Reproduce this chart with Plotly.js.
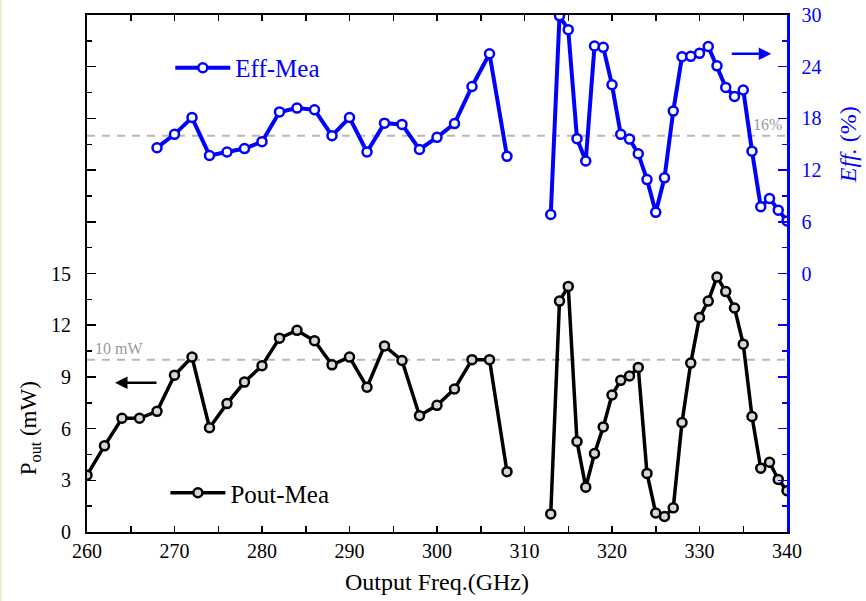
<!DOCTYPE html>
<html>
<head>
<meta charset="utf-8">
<script src="https://cdn.plot.ly/plotly-3.0.1.min.js"></script>
<style>html,body{margin:0;padding:0;background:#fff;}#chart{width:866px;height:601px;}</style>
</head>
<body>
<div id="chart"></div>
<script>
// Output frequency (GHz)
const freq = [260,262,264,266,268,270,272,274,276,278,280,282,284,286,288,290,292,294,296,298,300,302,304,306,308,
  310,
  313,314,315,316,317,318,319,320,321,322,323,324,325,326,327,328,329,330,331,332,333,334,335,336,337,338,339,340];
// Measured output power (mW)
const poutMea = [3.3,5.0,6.6,6.6,7.0,9.1,10.15,6.05,7.45,8.7,9.65,11.25,11.7,11.1,9.7,10.15,8.4,10.8,9.95,6.75,7.35,8.3,10.0,10.0,3.5,
  null,
  1.05,13.4,14.25,5.25,2.6,4.55,6.1,7.95,8.8,9.05,9.55,3.4,1.1,0.9,1.4,6.35,9.8,12.45,13.4,14.8,13.95,13.0,10.9,6.7,3.7,4.05,3.05,2.4];
// Measured efficiency (%), from 268 GHz
const freqEff = [268,270,272,274,276,278,280,282,284,286,288,290,292,294,296,298,300,302,304,306,308,
  310,
  313,314,315,316,317,318,319,320,321,322,323,324,325,326,327,328,329,330,331,332,333,334,335,336,337,338,339,340];
const effMea = [14.6,16.15,18.1,13.7,14.1,14.5,15.3,18.75,19.2,19.0,16.0,18.1,14.1,17.45,17.3,14.4,15.8,17.4,21.7,25.5,13.6,
  null,
  6.85,29.9,28.3,15.65,13.05,26.4,26.25,21.9,16.15,15.6,13.9,10.9,7.1,11.1,18.85,25.15,25.2,25.55,26.35,24.1,21.6,20.55,21.3,14.2,7.75,8.7,7.35,6.1];

const leftTicks = [0,3,6,9,12,15,18,21,24,27,30];
const leftTickText = ['0','3','6','9','12','15','','','','',''];
const rightTicks = [-30,-24,-18,-12,-6,0,6,12,18,24,30];
const rightTickText = ['','','','','','0','6','12','18','24','30'];

const serif = '"Liberation Serif", "Times New Roman", Times, serif';
const BLUE = '#0000ff';

const traces = [
  {
    x: freq, y: poutMea, name: 'Pout-Mea', type: 'scatter', mode: 'lines+markers',
    connectgaps: false, yaxis: 'y', legend: 'legend',
    line: {color: '#000', width: 3.5},
    marker: {symbol: 'circle', size: 9, color: '#d8d8d8', line: {color: '#000', width: 2.5}}
  },
  {
    x: freqEff, y: effMea, name: 'Eff-Mea', type: 'scatter', mode: 'lines+markers',
    connectgaps: false, yaxis: 'y2', legend: 'legend2',
    line: {color: BLUE, width: 4},
    marker: {symbol: 'circle', size: 9, color: '#fff', line: {color: BLUE, width: 2.5}}
  }
];

const layout = {
  width: 866, height: 601,
  margin: {l: 87, r: 79, t: 15, b: 69},
  paper_bgcolor: '#fff', plot_bgcolor: '#fff',
  font: {family: serif, size: 20, color: '#000'},
  showlegend: true,
  legend: {x: 0.112, y: 0.0754, xanchor: 'left', yanchor: 'middle', bgcolor: 'rgba(0,0,0,0)',
    font: {family: serif, size: 25, color: '#000'}, itemwidth: 55},
  legend2: {x: 0.119, y: 0.8975, xanchor: 'left', yanchor: 'middle', bgcolor: 'rgba(0,0,0,0)',
    font: {family: serif, size: 25, color: BLUE}, itemwidth: 55},
  xaxis: {
    range: [260, 340], tick0: 260, dtick: 10, ticks: 'inside', ticklen: 6, tickwidth: 1.5, tickcolor: '#000',
    minor: {dtick: 5, ticks: 'inside', ticklen: 6, tickwidth: 1.5, tickcolor: '#000'},
    showline: true, linecolor: '#000', linewidth: 2, mirror: 'ticks',
    showgrid: false, zeroline: false,
    tickfont: {family: serif, size: 20, color: '#000'},
    title: {text: 'Output Freq.(GHz)', font: {family: serif, size: 24, color: '#000'}, standoff: 12}
  },
  yaxis: {
    range: [0, 30], tickmode: 'array', tickvals: leftTicks, ticktext: leftTickText,
    ticks: 'inside', ticklen: 9, tickwidth: 1.5, tickcolor: '#000',
    minor: {tickmode: 'array', tickvals: [1.5,4.5,7.5,10.5,13.5,16.5,19.5,22.5,25.5,28.5], ticks: 'inside', ticklen: 5, tickwidth: 1.5, tickcolor: '#000'},
    showline: true, linecolor: '#000', linewidth: 2, showgrid: false, zeroline: false,
    tickfont: {family: serif, size: 20, color: '#000'}, ticklabelstandoff: 10
  },
  yaxis2: {
    range: [-30, 30], overlaying: 'y', side: 'right', tickmode: 'array', tickvals: rightTicks, ticktext: rightTickText,
    ticks: 'inside', ticklen: 9, tickwidth: 1.5, tickcolor: BLUE,
    minor: {tickmode: 'array', tickvals: [-27,-21,-15,-9,-3,3,9,15,21,27], ticks: 'inside', ticklen: 5, tickwidth: 1.5, tickcolor: BLUE},
    showline: true, linecolor: BLUE, linewidth: 2.5, showgrid: false, zeroline: false,
    tickfont: {family: serif, size: 20, color: BLUE}, ticklabelstandoff: 8
  },
  shapes: [
    {type: 'line', xref: 'paper', x0: 0, x1: 1, yref: 'y', y0: 10, y1: 10,
      line: {color: '#b8b8b8', width: 2, dash: '8px,7px'}, layer: 'below'},
    {type: 'line', xref: 'paper', x0: 0, x1: 1, yref: 'y2', y0: 16, y1: 16,
      line: {color: '#b8b8b8', width: 2, dash: '8px,7px'}, layer: 'below'},
    {type: 'rect', xref: 'paper', yref: 'paper', x0: -0.1243, x1: -0.1215, y0: -0.14, y1: 1.03,
      fillcolor: '#e4f2d8', line: {width: 0}, layer: 'below'}
  ],
  annotations: [
    {xref: 'x', yref: 'y', x: 260.7, y: 10.05, text: '10 mW', showarrow: false, xanchor: 'left', yanchor: 'bottom',
      font: {family: serif, size: 16, color: '#999'}},
    {xref: 'x', yref: 'y2', x: 339.7, y: 16.1, text: '16%', showarrow: false, xanchor: 'right', yanchor: 'bottom',
      font: {family: serif, size: 16, color: '#999'}},
    {xref: 'x', yref: 'y', x: 263.2, y: 8.66, ax: 43, ay: 0, text: '', showarrow: true,
      arrowhead: 2, arrowsize: 1, arrowwidth: 2.5, arrowcolor: '#000'},
    {xref: 'x', yref: 'y2', x: 338.2, y: 25.5, ax: -41, ay: 0, text: '', showarrow: true,
      arrowhead: 2, arrowsize: 1, arrowwidth: 2.5, arrowcolor: BLUE},
    {xref: 'paper', yref: 'paper', x: -0.082, y: 0.2, text: 'P<sub>out</sub> (mW)', showarrow: false, textangle: -90,
      xanchor: 'center', yanchor: 'middle', font: {family: serif, size: 23, color: '#000'}},
    {xref: 'paper', yref: 'paper', x: 1.087, y: 0.75, text: '<i>Eff.</i> (%)', showarrow: false, textangle: -90,
      xanchor: 'center', yanchor: 'middle', font: {family: serif, size: 24, color: BLUE}}
  ]
};

Plotly.newPlot('chart', traces, layout, {displayModeBar: false, staticPlot: true});
</script>
</body>
</html>
